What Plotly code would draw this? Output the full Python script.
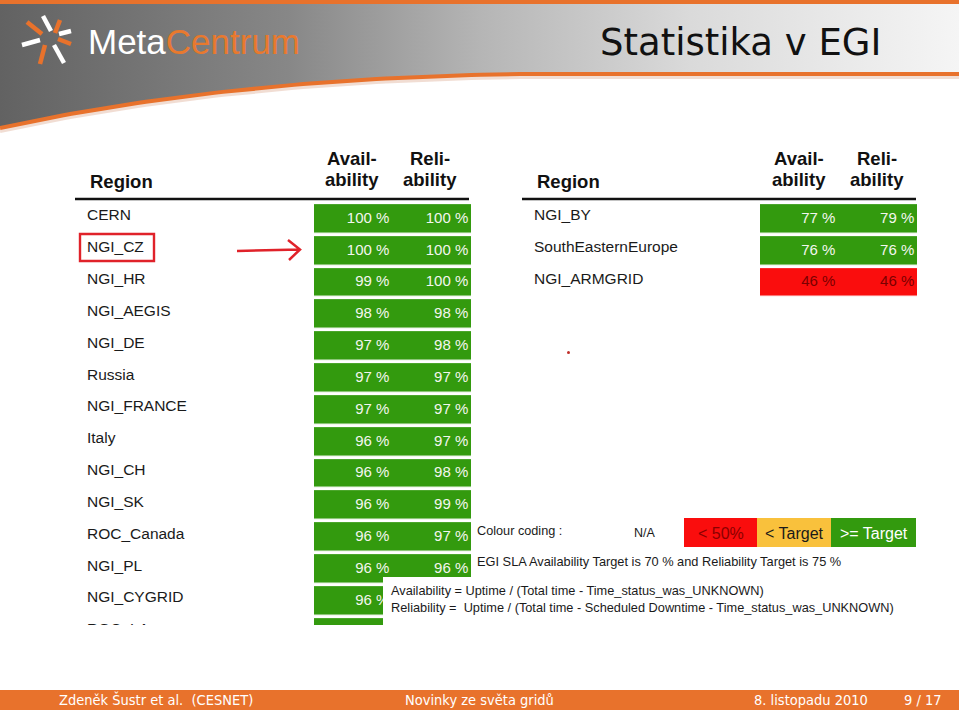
import numpy as np
import plotly.graph_objects as go

W, H = 959, 710

# ---------------- data ----------------
left_regions = ["CERN", "NGI_CZ", "NGI_HR", "NGI_AEGIS", "NGI_DE", "Russia", "NGI_FRANCE",
                "Italy", "NGI_CH", "NGI_SK", "ROC_Canada", "NGI_PL", "NGI_CYGRID", "ROC_LA"]
left_avail = [100, 100, 99, 98, 97, 97, 97, 96, 96, 96, 96, 96, 96, 96]
# last two reliability values are hidden under the formula note in the original
left_reli = [100, 100, 100, 98, 98, 97, 97, 97, 98, 99, 97, 96, None, None]

right_regions = ["NGI_BY", "SouthEasternEurope", "NGI_ARMGRID"]
right_avail = [77, 76, 46]
right_reli = [79, 76, 46]

col_headers = [("Avail-", "ability"), ("Reli-", "ability")]
legend_labels = ["< 50%", "< Target", ">= Target"]
AVAIL_TARGET = 70
RELI_TARGET = 75

title = "Statistika v EGI"
footer = ["Zdeněk Šustr et al.  (CESNET)", "Novinky ze světa gridů", "8. listopadu 2010", "9 / 17"]
sla_note = "EGI SLA Availability Target is 70 % and Reliability Target is 75 %"
formulas = ["Availability = Uptime / (Total time - Time_status_was_UNKNOWN)",
            "Reliability =  Uptime / (Total time - Scheduled Downtime - Time_status_was_UNKNOWN)"]

# ---------------- style ----------------
GREEN = "#339a0e"
RED = "#fa0d0d"
YELLOW = "#f9c13c"
ORANGE = "#e8722c"
ARIAL = "Liberation Sans, Arial, sans-serif"
DEJAVU = "DejaVu Sans, sans-serif"
CLASS_COLORS = [RED, YELLOW, GREEN]
TEXT_COLORS = ["#7a0000", "#222222", "#f3f6ee"]
PITCH = 31.83


def px(x):
    return x / W


def py(y):
    return 1 - y / H


def cls(v, target):
    if v is None:
        return None
    if v < 50:
        return 0
    if v < target:
        return 1
    return 2


fig = go.Figure()

# decoration axes in pixel coordinates (x / y)
layout = dict(
    xaxis=dict(domain=[0, 1], range=[0, W], visible=False, fixedrange=True),
    yaxis=dict(domain=[0, 1], range=[H, 0], visible=False, fixedrange=True),
)

# header band with gradient
t = np.linspace(0, 1, 60)
P0, P1, P2 = (0, 128), (230, 78), (520, 74)
cx = (1 - t) ** 2 * P0[0] + 2 * (1 - t) * t * P1[0] + t ** 2 * P2[0]
cy = (1 - t) ** 2 * P0[1] + 2 * (1 - t) * t * P1[1] + t ** 2 * P2[1]
curve_x = list(cx) + [W]
curve_y = list(cy) + [74]
band_x = [0, W] + curve_x[::-1]
band_y = [4, 4] + curve_y[::-1]
fig.add_trace(go.Scatter(
    x=band_x, y=band_y, xaxis="x", yaxis="y", mode="none", fill="toself",
    fillgradient=dict(type="horizontal",
                      colorscale=[[0, "#626262"], [0.3, "#878787"], [0.5, "#b5b5b5"],
                                  [0.72, "#dadada"], [1, "#f5f5f5"]]),
    hoverinfo="skip", showlegend=False))
# shadow + orange curve
fig.add_trace(go.Scatter(x=curve_x, y=[v + 3 for v in curve_y], xaxis="x", yaxis="y", mode="lines",
                         line=dict(color="rgba(200,120,80,0.25)", width=4), hoverinfo="skip", showlegend=False))
fig.add_trace(go.Scatter(x=curve_x, y=curve_y, xaxis="x", yaxis="y", mode="lines",
                         line=dict(color=ORANGE, width=4), hoverinfo="skip", showlegend=False))

shapes = []
annotations = []

# top orange line and footer bar
shapes.append(dict(type="rect", xref="x", yref="y", x0=0, x1=W, y0=0, y1=4, fillcolor=ORANGE, line_width=0, layer="below"))
shapes.append(dict(type="rect", xref="x", yref="y", x0=0, x1=W, y0=690, y1=H, fillcolor=ORANGE, line_width=0, layer="below"))

# logo star
star_white = [((43, 16), (51, 31)), ((22, 45), (40, 40)), ((54, 45), (64, 63)), ((59, 34), (71, 31))]
star_orange = [((27, 22), (42, 34)), ((60, 20), (55, 33)), ((45, 45), (40, 64)), ((58, 39), (71, 44))]
for segs, col in ((star_orange, ORANGE), (star_white, "white")):
    for (a, b) in segs:
        shapes.append(dict(type="line", xref="x", yref="y", x0=a[0], y0=a[1], x1=b[0], y1=b[1],
                           line=dict(color=col, width=4.5), layer="above"))

annotations.append(dict(xref="paper", yref="paper", x=px(86), y=py(41), xanchor="left", yanchor="middle",
                        text="<span style='color:#ffffff'>Meta</span><span style='color:#e8792e'>Centrum</span>",
                        showarrow=False, font=dict(family=ARIAL, size=35)))
annotations.append(dict(xref="paper", yref="paper", x=px(883), y=py(42), xanchor="right", yanchor="middle",
                        text=title, showarrow=False, font=dict(family=DEJAVU, size=37, color="#111111")))

# footer
footer_pos = [(57, "left"), (479, "center"), (752, "left"), (902, "left")]
for txt, (x, anc) in zip(footer, footer_pos):
    annotations.append(dict(xref="paper", yref="paper", x=px(x), y=py(699.5), xanchor=anc, yanchor="middle",
                            text=txt.replace("  ", "\u00a0\u00a0"), showarrow=False,
                            font=dict(family="DejaVu Sans Condensed, DejaVu Sans, sans-serif", size=14.5, color="white")))

colorscale = [[0, RED], [1 / 3, RED], [1 / 3, YELLOW], [2 / 3, YELLOW], [2 / 3, GREEN], [1, GREEN]]

axis_counter = [2]


def add_table(regions, avail, reli, x0, x1, top, bottom, name_x, hdr_region_x, hdr_cols_x, line_x):
    n = len(regions)
    a = axis_counter[0]
    b = a + 1
    axis_counter[0] += 2
    nvis = (bottom - top) / PITCH
    layout[f"xaxis{a}"] = dict(domain=[px(x0), px(x1)], range=[-0.5, 1.5], visible=False, anchor=f"y{a}", fixedrange=True)
    layout[f"yaxis{a}"] = dict(domain=[py(bottom), py(top)], range=[-0.5 + nvis, -0.5], visible=False, anchor=f"x{a}", fixedrange=True)
    shift = 2.5
    nvis2 = (bottom - (top - shift)) / PITCH
    layout[f"xaxis{b}"] = dict(domain=[px(name_x), px(x0 - 5)], range=[0, 1], visible=False, anchor=f"y{b}", fixedrange=True)
    layout[f"yaxis{b}"] = dict(domain=[py(bottom), py(top - shift)], range=[-0.5 + nvis2, -0.5], visible=False, anchor=f"x{b}", fixedrange=True)

    z = [[cls(av, AVAIL_TARGET), cls(rv, RELI_TARGET)] for av, rv in zip(avail, reli)]
    rows = list(range(n))
    fig.add_trace(go.Heatmap(z=z, x=[0, 1], y=rows, xaxis=f"x{a}", yaxis=f"y{a}", colorscale=colorscale,
                             zmin=-0.5, zmax=2.5, showscale=False, xgap=0, ygap=3.5, hoverinfo="skip"))
    tx, ty, tt, tc = [], [], [], []
    for col, (vals, xpos) in enumerate(((avail, 0.46), (reli, 1.465))):
        for r, v in enumerate(vals):
            if v is None:
                continue
            tx.append(xpos)
            ty.append(r)
            tt.append(f"{v} %")
            tc.append(TEXT_COLORS[z[r][col]])
    fig.add_trace(go.Scatter(x=tx, y=ty, xaxis=f"x{a}", yaxis=f"y{a}",
                             mode="text", text=tt, textposition="middle left",
                             textfont=dict(family=ARIAL, size=15, color=tc),
                             hoverinfo="skip", showlegend=False, cliponaxis=True))
    fig.add_trace(go.Scatter(x=[0] * n, y=rows, xaxis=f"x{b}", yaxis=f"y{b}", mode="text", text=regions,
                             textposition="middle right", textfont=dict(family=ARIAL, size=15.5, color="#1a1a1a"),
                             hoverinfo="skip", showlegend=False, cliponaxis=True))
    # headers
    annotations.append(dict(xref="paper", yref="paper", x=px(hdr_region_x), y=py(181), xanchor="left", yanchor="middle",
                            text="<b>Region</b>", showarrow=False, font=dict(family=ARIAL, size=18.5, color="#111111")))
    for (l1, l2), cxp in zip(col_headers, hdr_cols_x):
        annotations.append(dict(xref="paper", yref="paper", x=px(cxp), y=py(158), xanchor="center", yanchor="middle",
                                text=f"<b>{l1}</b>", showarrow=False, font=dict(family=ARIAL, size=18.5, color="#111111")))
        annotations.append(dict(xref="paper", yref="paper", x=px(cxp), y=py(179.5), xanchor="center", yanchor="middle",
                                text=f"<b>{l2}</b>", showarrow=False, font=dict(family=ARIAL, size=18.5, color="#111111")))
    shapes.append(dict(type="line", xref="x", yref="y", x0=line_x[0], x1=line_x[1], y0=199, y1=199,
                       line=dict(color="#111111", width=2.5), layer="above"))


add_table(left_regions, left_avail, left_reli, 314, 471, 203.1, 625, 87, 88, (352, 430), (75, 469))
add_table(right_regions, right_avail, right_reli, 760, 917, 203.1, 203.1 + 3 * PITCH, 534, 535, (799, 877), (522, 916))

# highlight box and hand-drawn arrow
shapes.append(dict(type="rect", xref="x", yref="y", x0=80, x1=154, y0=234, y1=261,
                   line=dict(color="#e0222a", width=2.4), layer="above"))
shapes.append(dict(type="path", xref="x", yref="y", path="M 237,251 L 300,249.5 M 288,240 L 300,249.5 L 289,260",
                   line=dict(color="#e0222a", width=2.5), layer="above"))
shapes.append(dict(type="circle", xref="x", yref="y", x0=567, x1=570, y0=351, y1=354,
                   fillcolor="#c0302a", line_width=0, layer="above"))

# colour coding legend
annotations.append(dict(xref="paper", yref="paper", x=px(475), y=py(531), xanchor="left", yanchor="middle",
                        text="Colour coding :", showarrow=False, font=dict(family=ARIAL, size=12.7, color="#1a1a1a")))
annotations.append(dict(xref="paper", yref="paper", x=px(645), y=py(533), xanchor="center", yanchor="middle",
                        text="N/A", showarrow=False, font=dict(family=ARIAL, size=12.5, color="#1a1a1a")))
leg_edges = [684, 757, 831, 916]
leg_text_cols = ["#8a0000", "#1a1a1a", "white"]
for i, lab in enumerate(legend_labels):
    shapes.append(dict(type="rect", xref="x", yref="y", x0=leg_edges[i], x1=leg_edges[i + 1], y0=518, y1=547,
                       fillcolor=CLASS_COLORS[i], line_width=0, layer="above"))
    annotations.append(dict(xref="paper", yref="paper", x=px((leg_edges[i] + leg_edges[i + 1]) / 2), y=py(533),
                            xanchor="center", yanchor="middle", text=lab, showarrow=False,
                            font=dict(family=ARIAL, size=16, color=leg_text_cols[i])))
annotations.append(dict(xref="paper", yref="paper", x=px(475), y=py(561), xanchor="left", yanchor="middle",
                        text=sla_note, showarrow=False, font=dict(family=ARIAL, size=12.8, color="#1a1a1a")))

# formula box
shapes.append(dict(type="rect", xref="x", yref="y", x0=383, x1=905, y0=577, y1=640,
                   fillcolor="white", line_width=0, layer="above"))
annotations.append(dict(xref="paper", yref="paper", x=px(389), y=py(598.5), xanchor="left", yanchor="middle",
                        align="left", text="<br>".join(f.replace("  ", "\u00a0\u00a0") for f in formulas),
                        showarrow=False, font=dict(family=ARIAL, size=12.75, color="#1a1a1a")))

fig.update_layout(**layout)
fig.update_layout(width=W, height=H, margin=dict(l=0, r=0, t=0, b=0), paper_bgcolor="white",
                  plot_bgcolor="rgba(0,0,0,0)", showlegend=False, shapes=shapes, annotations=annotations)

fig.write_html("out.html", config={"displayModeBar": False},
               post_script="document.body.style.margin='0';document.body.style.overflow='hidden';")
